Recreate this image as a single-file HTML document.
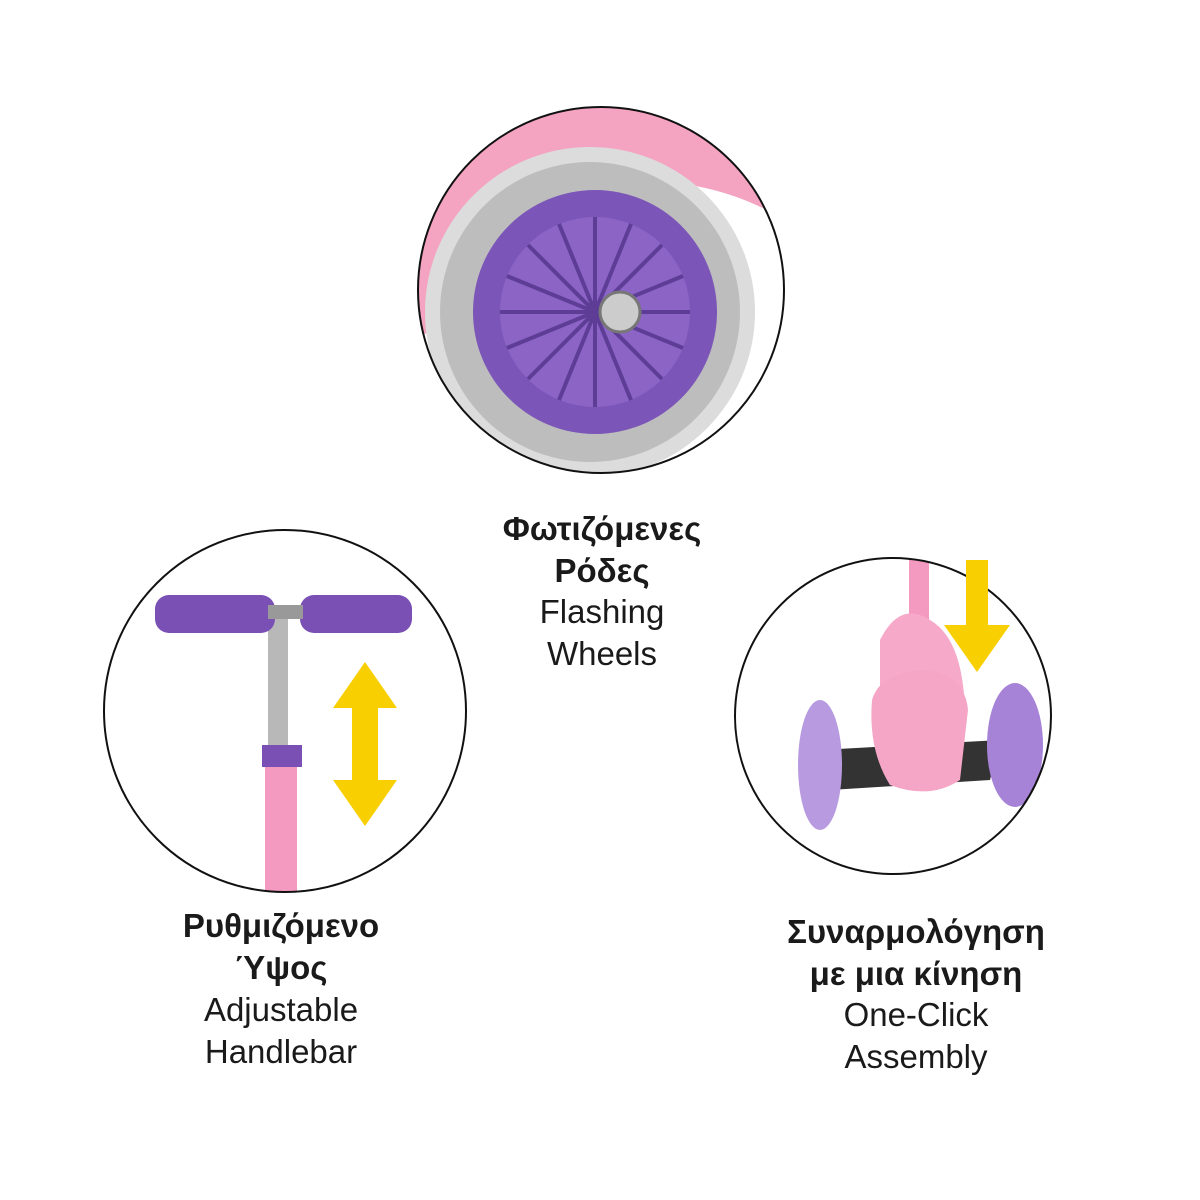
<!DOCTYPE html>
<html><head><meta charset="utf-8"><style>
html,body{margin:0;padding:0;background:#fff;width:1200px;height:1200px;overflow:hidden}
svg{display:block}
text{font-family:"Liberation Sans","DejaVu Sans",sans-serif;fill:#1a1a1a;text-anchor:middle}
.b{font-weight:bold;font-size:33px}
.r{font-size:33px}
</style></head><body>
<svg width="1200" height="1200" viewBox="0 0 1200 1200">
<defs>
<clipPath id="c1"><circle cx="601" cy="290" r="183"/></clipPath>
<clipPath id="c2"><circle cx="285" cy="711" r="181"/></clipPath>
<clipPath id="c3"><circle cx="893" cy="716" r="158"/></clipPath>
</defs>
<!-- top circle -->
<g clip-path="url(#c1)">
<rect x="400" y="100" width="400" height="400" fill="#fff"/>
<path d="M400 100 H800 V230 Q700 160 560 190 Q470 230 440 330 L400 340 Z" fill="#f4a3c0"/>
<circle cx="590" cy="312" r="165" fill="#dcdcdc"/>
<circle cx="590" cy="312" r="150" fill="#bdbdbd"/>
<circle cx="595" cy="312" r="122" fill="#7b55b8"/>
<circle cx="595" cy="312" r="95" fill="#8b64c6"/>
<g stroke="#5e3d96" stroke-width="4">
<line x1="500" y1="312" x2="690" y2="312"/><line x1="595" y1="217" x2="595" y2="407"/>
<line x1="528" y1="245" x2="662" y2="379"/><line x1="662" y1="245" x2="528" y2="379"/>
<line x1="507" y1="276" x2="683" y2="348"/><line x1="507" y1="348" x2="683" y2="276"/>
<line x1="559" y1="224" x2="631" y2="400"/><line x1="631" y1="224" x2="559" y2="400"/>
</g>
<circle cx="620" cy="312" r="20" fill="#ccc" stroke="#777" stroke-width="3"/>
</g>
<circle cx="601" cy="290" r="183" fill="none" stroke="#111" stroke-width="2"/>
<!-- left circle -->
<g clip-path="url(#c2)">
<rect x="265" y="760" width="32" height="140" fill="#f49ac0"/>
<rect x="268" y="615" width="20" height="150" fill="#b8b8b8"/>
<rect x="262" y="745" width="40" height="22" fill="#7a50b5"/>
<rect x="155" y="595" width="120" height="38" rx="14" fill="#7a50b5"/>
<rect x="300" y="595" width="112" height="38" rx="14" fill="#7a50b5"/>
<rect x="268" y="605" width="35" height="14" fill="#999"/>
</g>
<circle cx="285" cy="711" r="181" fill="none" stroke="#111" stroke-width="2"/>
<polygon points="365,662 397,708 378,708 378,780 397,780 365,826 333,780 352,780 352,708 333,708" fill="#f8cf00"/>
<!-- right circle -->
<g clip-path="url(#c3)">
<rect x="909" y="520" width="20" height="110" fill="#f49ac0"/>
<path d="M880 640 Q900 600 930 620 Q965 640 965 720 L930 730 L880 725 Z" fill="#f6a9c8"/>
<path d="M820 750 L1000 740 L990 780 L830 790 Z" fill="#333"/>
<ellipse cx="820" cy="765" rx="22" ry="65" fill="#b79ae0"/>
<ellipse cx="1015" cy="745" rx="28" ry="62" fill="#a783d8"/>
<path d="M872 700 Q880 672 925 670 Q965 675 968 710 L960 780 Q930 800 890 785 Q868 750 872 700 Z" fill="#f5a6c6"/>
</g>
<circle cx="893" cy="716" r="158" fill="none" stroke="#111" stroke-width="2"/>
<polygon points="966,560 988,560 988,625 1010,625 977,672 944,625 966,625" fill="#f8cf00"/>
<!-- labels -->
<text class="b" x="602" y="540">Φωτιζόμενες</text>
<text class="b" x="602" y="582">Ρόδες</text>
<text class="r" x="602" y="623">Flashing</text>
<text class="r" x="602" y="665">Wheels</text>
<text class="b" x="281" y="937">Ρυθμιζόμενο</text>
<text class="b" x="281" y="979">Ύψος</text>
<text class="r" x="281" y="1021">Adjustable</text>
<text class="r" x="281" y="1063">Handlebar</text>
<text class="b" x="916" y="943">Συναρμολόγηση</text>
<text class="b" x="916" y="985">με μια κίνηση</text>
<text class="r" x="916" y="1026">One-Click</text>
<text class="r" x="916" y="1068">Assembly</text>
</svg>
</body></html>
